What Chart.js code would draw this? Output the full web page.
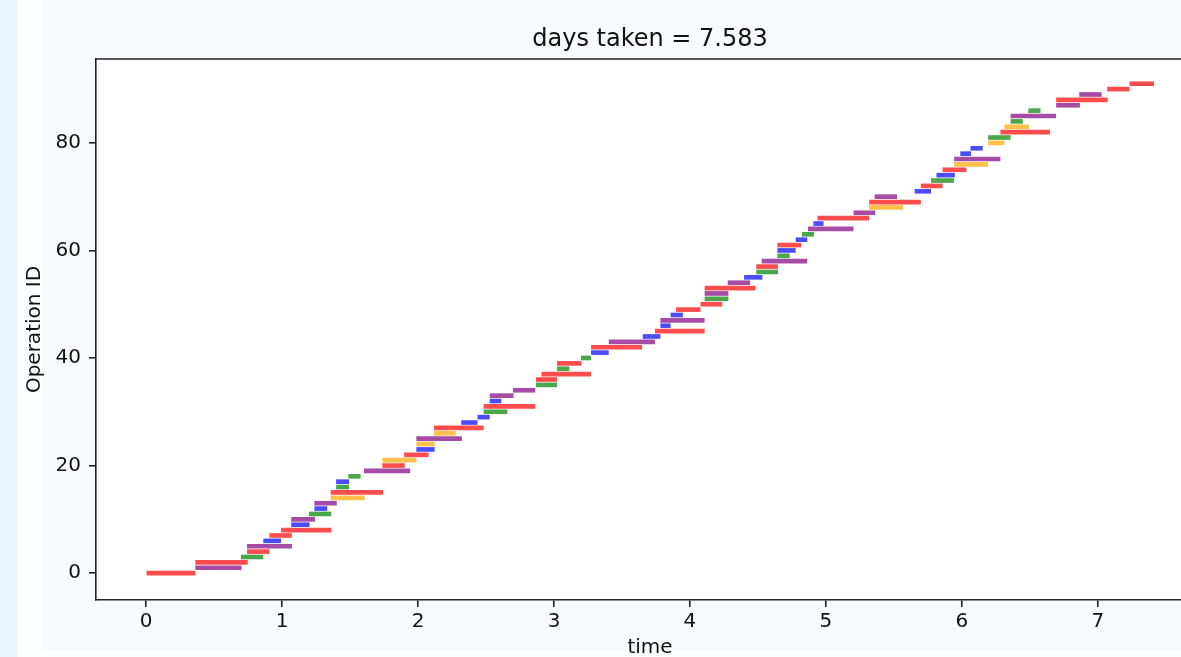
<!DOCTYPE html>
<html>
<head>
<meta charset="utf-8">
<title>days taken = 7.583</title>
<script src="https://cdn.jsdelivr.net/npm/chart.js@4/dist/chart.umd.min.js"></script>
<style>
    html, body { margin: 0; padding: 0; background: #fdfeff; overflow: hidden; }
    #strip { position: absolute; left: 0; top: 0; width: 17px; height: 657px; background: #eaf6fd; }
    #figure { position: absolute; left: 42px; top: 0; width: 1139px; height: 651px; background: #f8fafd; }
    #wrap { position: absolute; left: 0; top: 0; width: 1300px; height: 662px; }
</style>
</head>
<body>
<div id="strip"></div>
<div id="figure"></div>
<div id="wrap"><canvas id="scheduleChart"></canvas></div>
<script>
// Schedule data: one row per operation (operation ID = index)
const startTimes = [
    0, 0.365, 0.365, 0.70, 0.745, 0.745, 0.865, 0.91, 0.995, 1.07,
    1.07, 1.20, 1.24, 1.24, 1.36, 1.36, 1.40, 1.40, 1.49, 1.605,
    1.74, 1.74, 1.90, 1.99, 1.99, 1.99, 2.12, 2.12, 2.32, 2.44,
    2.485, 2.485, 2.53, 2.53, 2.70, 2.87, 2.87, 2.91, 3.025, 3.025,
    3.20, 3.275, 3.275, 3.405, 3.655, 3.745, 3.785, 3.785, 3.86, 3.90,
    4.08, 4.11, 4.11, 4.11, 4.28, 4.40, 4.49, 4.49, 4.53, 4.645,
    4.645, 4.645, 4.78, 4.825, 4.87, 4.91, 4.94, 5.205, 5.32, 5.32,
    5.36, 5.655, 5.70, 5.775, 5.815, 5.86, 5.945, 5.945, 5.99, 6.065,
    6.195, 6.195, 6.285, 6.315, 6.36, 6.36, 6.49, 6.695, 6.695, 6.865,
    7.07, 7.235
];
const endTimes = [
    0.36, 0.70, 0.745, 0.86, 0.905, 1.07, 0.99, 1.07, 1.36, 1.20,
    1.24, 1.36, 1.33, 1.40, 1.605, 1.74, 1.49, 1.49, 1.575, 1.94,
    1.90, 1.985, 2.075, 2.12, 2.12, 2.32, 2.275, 2.48, 2.435, 2.525,
    2.655, 2.86, 2.61, 2.70, 2.86, 3.02, 3.02, 3.27, 3.11, 3.20,
    3.27, 3.40, 3.645, 3.74, 3.78, 4.105, 3.855, 4.105, 3.945, 4.075,
    4.235, 4.28, 4.28, 4.48, 4.44, 4.53, 4.645, 4.645, 4.86, 4.73,
    4.775, 4.815, 4.86, 4.91, 5.20, 4.98, 5.315, 5.36, 5.565, 5.695,
    5.52, 5.77, 5.855, 5.94, 5.945, 6.03, 6.19, 6.28, 6.065, 6.15,
    6.31, 6.355, 6.645, 6.49, 6.445, 6.69, 6.575, 6.865, 7.07, 7.025,
    7.23, 7.41
];
// machine that runs each operation
const machines = [
    'red', 'purple', 'red', 'green', 'red', 'purple', 'blue', 'red', 'red', 'blue',
    'purple', 'green', 'blue', 'purple', 'orange', 'red', 'green', 'blue', 'green', 'purple',
    'red', 'orange', 'red', 'blue', 'orange', 'purple', 'orange', 'red', 'blue', 'blue',
    'green', 'red', 'blue', 'purple', 'purple', 'green', 'red', 'red', 'green', 'red',
    'green', 'blue', 'red', 'purple', 'blue', 'red', 'blue', 'purple', 'blue', 'red',
    'red', 'green', 'purple', 'red', 'purple', 'blue', 'green', 'red', 'purple', 'green',
    'blue', 'red', 'blue', 'green', 'purple', 'blue', 'red', 'purple', 'orange', 'red',
    'purple', 'blue', 'red', 'green', 'blue', 'red', 'orange', 'purple', 'blue', 'blue',
    'orange', 'green', 'red', 'orange', 'green', 'purple', 'green', 'purple', 'red', 'purple',
    'red', 'red'
];
const xTickValues = [0, 1, 2, 3, 4, 5, 6, 7];
const yTickValues = [0, 20, 40, 60, 80];
const daysTaken = 7.583;

// matplotlib named colours at alpha 0.7
const palette = {
    red: 'rgba(255, 0, 0, 0.7)',
    purple: 'rgba(128, 0, 128, 0.7)',
    green: 'rgba(0, 128, 0, 0.7)',
    blue: 'rgba(0, 0, 255, 0.7)',
    orange: 'rgba(255, 165, 0, 0.7)'
};

const segments = startTimes.map((s, i) => ({ y: i, x: [s, endTimes[i]] }));

// white plot background + top/right spines
const axesFrame = {
    id: 'axesFrame',
    beforeDraw(chart) {
        const { ctx, chartArea: a } = chart;
        ctx.save();
        ctx.fillStyle = '#ffffff';
        ctx.fillRect(a.left, a.top, a.right - a.left, a.bottom - a.top);
        ctx.restore();
    },
    afterDraw(chart) {
        const { ctx, chartArea: a } = chart;
        ctx.save();
        ctx.strokeStyle = '#222';
        ctx.lineWidth = 1.6;
        ctx.beginPath();
        ctx.moveTo(a.left, a.top);
        ctx.lineTo(a.right, a.top);
        ctx.lineTo(a.right, a.bottom);
        ctx.stroke();
        ctx.restore();
    }
};

const tickFont = { family: 'DejaVu Sans', size: 20 };

new Chart(document.getElementById('scheduleChart'), {
    type: 'bar',
    data: {
        datasets: [{
            data: segments,
            backgroundColor: machines.map(m => palette[m]),
            barThickness: 4,
            borderWidth: 0,
            borderSkipped: false
        }]
    },
    options: {
        indexAxis: 'y',
        responsive: true,
        maintainAspectRatio: false,
        animation: false,
        layout: { padding: 0 },
        plugins: {
            legend: { display: false },
            tooltip: { enabled: false },
            title: {
                display: true,
                text: 'days taken = ' + daysTaken,
                color: '#111',
                font: { family: 'DejaVu Sans', size: 24, weight: 'normal' },
                padding: { top: 25.6, bottom: 4.6 }
            }
        },
        scales: {
            x: {
                type: 'linear',
                min: -0.368,
                max: 7.78,
                afterBuildTicks: axis => { axis.ticks = xTickValues.map(v => ({ value: v })); },
                afterFit: axis => { axis.height = 62; },
                grid: { display: true, drawOnChartArea: false, tickLength: 7, color: '#222', lineWidth: 1.6 },
                border: { display: true, color: '#222', width: 1.6 },
                ticks: { color: '#111', font: tickFont, padding: 3, maxRotation: 0 },
                title: {
                    display: true,
                    text: 'time',
                    color: '#111',
                    font: { family: 'DejaVu Sans', size: 20 },
                    padding: { top: 0, bottom: 2 }
                }
            },
            y: {
                type: 'linear',
                min: -5,
                max: 95.6,
                offset: false,
                afterBuildTicks: axis => { axis.ticks = yTickValues.map(v => ({ value: v })); },
                afterFit: axis => { axis.width = 96; },
                grid: { display: true, offset: false, drawOnChartArea: false, tickLength: 7, color: '#222', lineWidth: 1.6 },
                border: { display: true, color: '#222', width: 1.6 },
                ticks: { color: '#111', font: tickFont, padding: 8 },
                title: {
                    display: true,
                    text: 'Operation ID',
                    color: '#111',
                    font: { family: 'DejaVu Sans', size: 20 },
                    padding: { top: 22.5, bottom: 0 }
                }
            },
            // empty right-hand gutter so the title centres over the full axes
            yRight: {
                type: 'linear',
                position: 'right',
                min: 0,
                max: 1,
                afterFit: axis => { axis.width = 96; },
                grid: { display: false },
                border: { display: false },
                ticks: { display: false }
            }
        }
    },
    plugins: [axesFrame]
});
</script>
</body>
</html>
